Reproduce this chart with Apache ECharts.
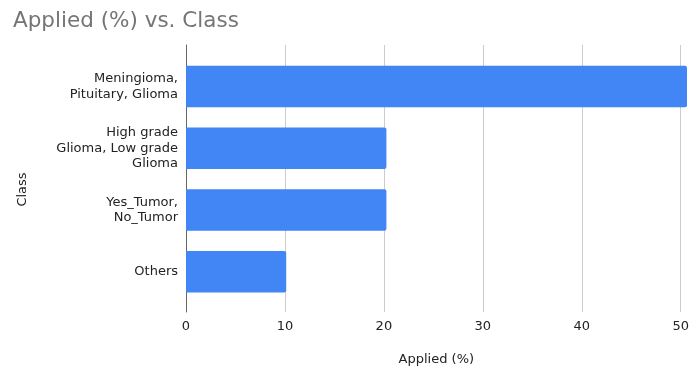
<!DOCTYPE html>
<html><head><meta charset="utf-8">
<script src="https://cdn.jsdelivr.net/npm/echarts@6/dist/echarts.min.js"></script>
<style>html,body{margin:0;padding:0;background:#fff}#c{width:692px;height:371px}</style>
</head><body><div id="c"></div>
<script>
const categories = ['Meningioma,\nPituitary, Glioma', 'High grade\nGlioma, Low grade\nGlioma', 'Yes_Tumor,\nNo_Tumor', 'Others'];
const applied = [50, 20, 20, 10];
const xTicks = [0, 10, 20, 30, 40, 50];

const chart = echarts.init(document.getElementById('c'), null, {renderer: 'canvas'});
const font = '"DejaVu Sans", sans-serif';
chart.setOption({
  animation: false,
  textStyle: {fontFamily: font},
  title: {text: 'Applied (%) vs. Class', left: 8, top: 5,
    textStyle: {fontFamily: font, fontSize: 21.5, fontWeight: 'normal', color: '#757575'}},
  grid: [
    {left: 186, right: 5, top: 45, bottom: 59},
    {left: 186, right: 5, top: 55.6, height: 247}
  ],
  xAxis: [
    {gridIndex: 0, type: 'value', min: xTicks[0], max: xTicks[xTicks.length - 1], interval: 10,
     axisLine: {show: false}, axisTick: {show: false},
     splitLine: {lineStyle: {color: '#cccccc', width: 1}},
     axisLabel: {color: '#222', fontSize: 13, margin: 8, fontFamily: font},
     name: 'Applied (%)', nameLocation: 'middle', nameGap: 41,
     nameTextStyle: {color: '#222', fontSize: 13, fontFamily: font, padding: [0, 0, 0, 6]}},
    {gridIndex: 1, type: 'value', min: xTicks[0], max: xTicks[xTicks.length - 1], show: false}
  ],
  yAxis: [
    {gridIndex: 0, type: 'value', min: 0, max: 1,
     axisLine: {show: true, lineStyle: {color: '#666', width: 1}},
     axisTick: {show: false}, axisLabel: {show: false}, splitLine: {show: false},
     name: 'Class', nameLocation: 'middle', nameGap: 157, nameRotate: 90,
     nameTextStyle: {color: '#222', fontSize: 13, fontFamily: font, padding: [0, 22, 0, 0]}},
    {gridIndex: 1, type: 'category', data: categories, inverse: true,
     axisLine: {show: false}, axisTick: {show: false}, splitLine: {show: false},
     axisLabel: {color: '#222', fontSize: 13, lineHeight: 15.5, margin: 8, align: 'right', fontFamily: font}}
  ],
  series: [{
    type: 'bar', xAxisIndex: 1, yAxisIndex: 1, data: applied,
    barCategoryGap: '33%',
    itemStyle: {color: '#4285F4', borderRadius: [0, 2, 2, 0]}
  }]
});
</script></body></html>
